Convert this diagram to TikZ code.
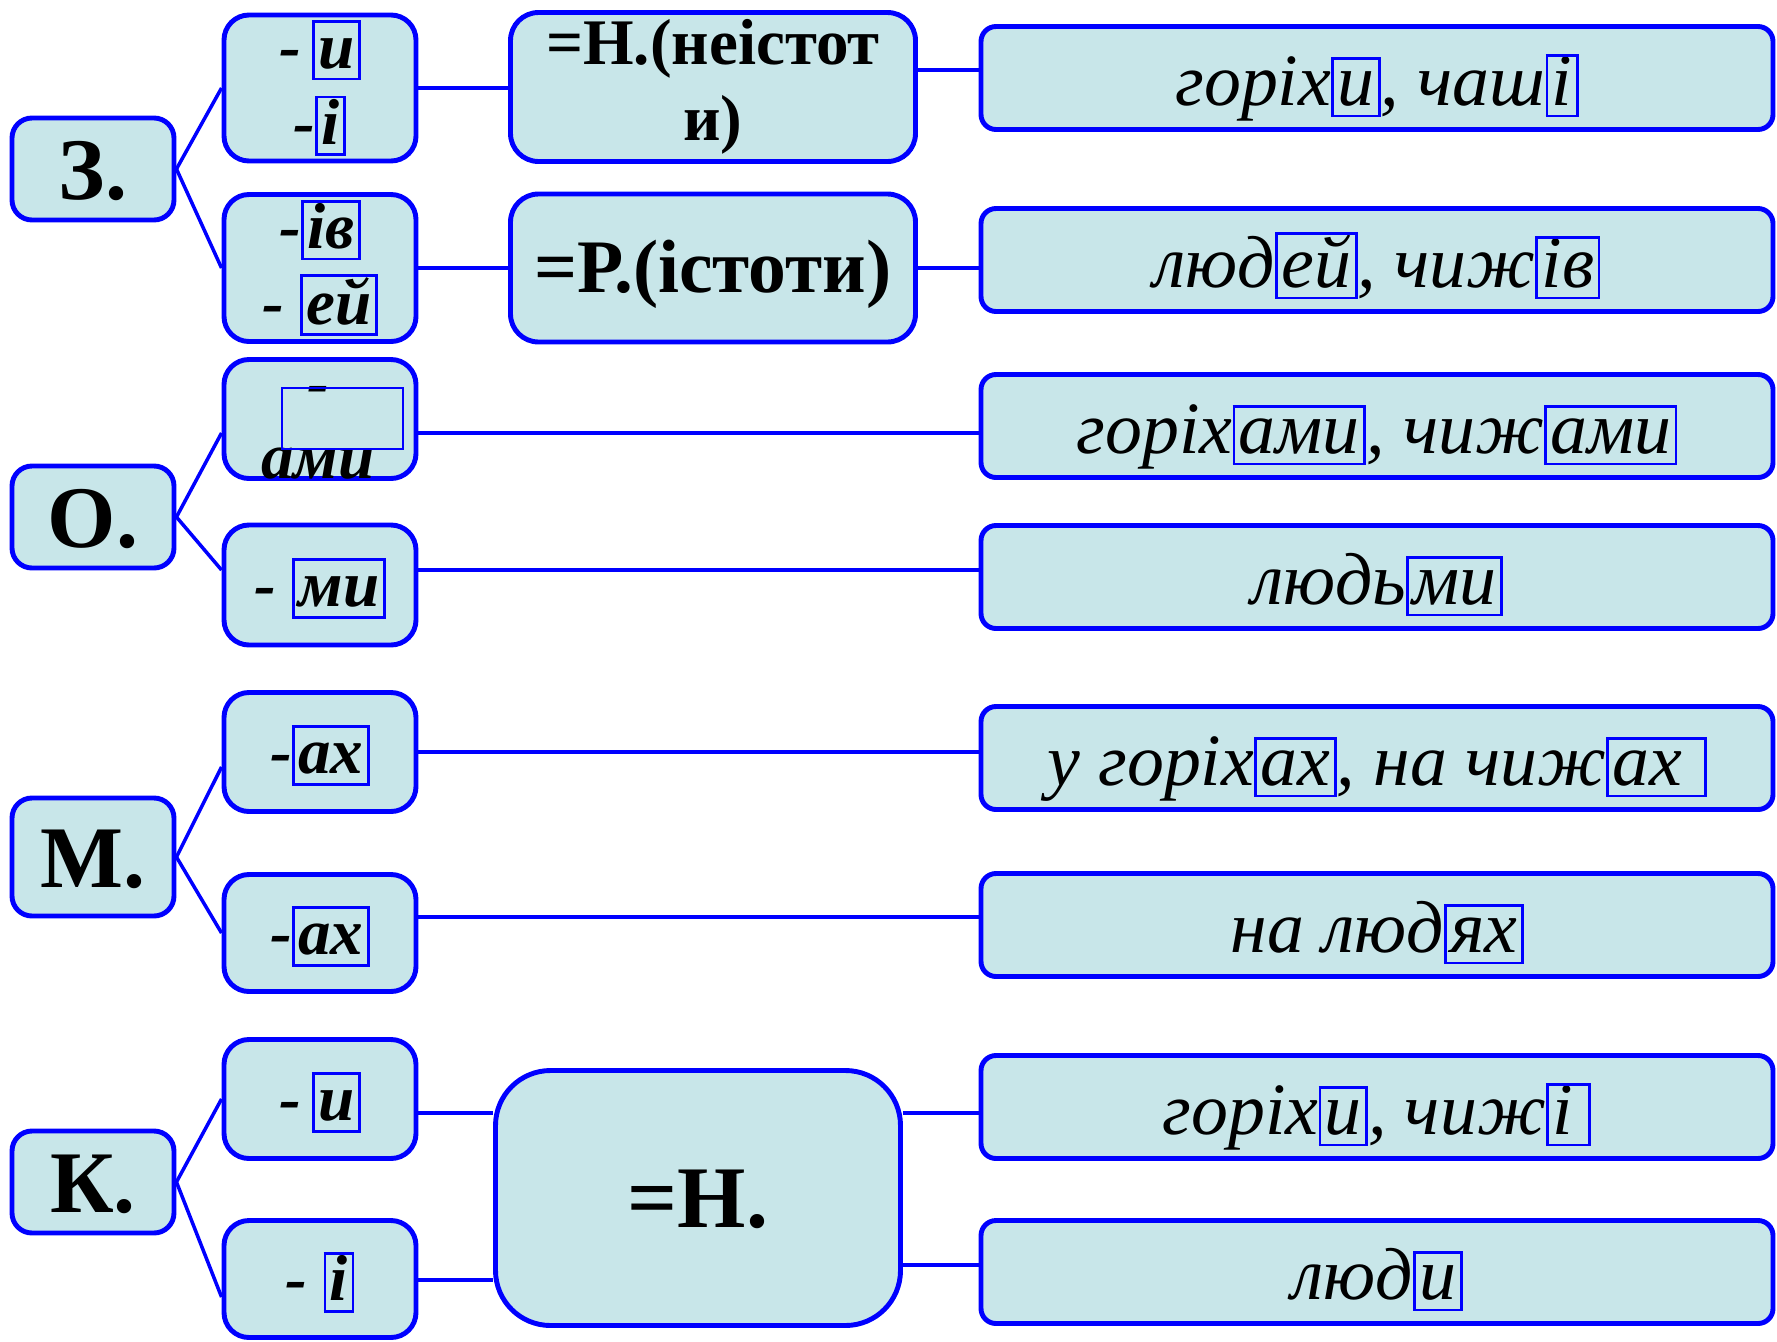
\documentclass[tikz,border=0pt]{standalone}
\usepackage{fontspec}
\setmainfont{Liberation Serif}
\definecolor{boxfill}{RGB}{200,230,233}
% framed ending inside a word
\newcommand{\flex}[1]{{\color{blue}\setlength{\fboxsep}{0pt}\setlength{\fboxrule}{0.8pt}%
  \fbox{\color{black}\rule[-2.6pt]{0pt}{15.6pt}\kern1pt#1\kern1pt}}}

\begin{document}
\begin{tikzpicture}[x=0.1mm, y=-0.1mm,
  box/.style={draw=blue, fill=boxfill, line width=1.4pt, inner sep=0pt},
  casebox/.style={box, rounded corners=0.2cm, minimum width=1.62cm, minimum height=1.02cm,
    font=\fontsize{25}{30}\selectfont\bfseries, text height=17.6pt, text depth=0pt},
  endbox/.style={box, rounded corners=0.25cm, minimum width=1.92cm, align=center,
    font=\fontsize{18.5}{21.5}\selectfont\bfseries\itshape},
  endtext/.style={font=\fontsize{18.5}{21.5}\selectfont\bfseries\itshape, inner sep=0pt, anchor=base},
  eqbox/.style={box, rounded corners=0.28cm, minimum width=4.05cm, minimum height=1.48cm, align=center,
    font=\fontsize{21.5}{25}\selectfont\bfseries},
  wordbox/.style={box, rounded corners=0.15cm, minimum width=7.92cm, minimum height=1.03cm,
    font=\fontsize{21}{25}\selectfont\itshape, text height=15.6pt, text depth=0pt},
  link/.style={draw=blue, line width=1.4pt},
  branch/.style={draw=blue, line width=1pt}]
  \useasboundingbox (0,0) rectangle (1777,1341);

  % cases
  \node[casebox] (z) at (93,169) {З.};
  \node[casebox] (o) at (93,517) {О.};
  \node[casebox, minimum height=1.18cm] (m) at (93,857) {М.};
  \node[casebox] (k) at (93,1182) {К.};

  % endings
  \node[endbox, minimum height=1.46cm] (e1) at (320,88) {-\,\flex{и}\\-\flex{і}};
  \node[endbox, minimum height=1.47cm] (e2) at (320,268) {-\flex{ів}\\- \flex{ей}};
  \node[endbox, minimum height=1.19cm] (e3) at (320,419) {};
  \node[endtext] (e3dash) at (318,404) {-};
  \node[endtext] (e3low) at (318,478) {ами};
  \draw[blue, line width=0.8pt] (282,388) rectangle (403,449);
  \node[endbox, minimum height=1.2cm, text height=12.4pt, text depth=0pt] (e4) at (320,585) {- \flex{ми}};
  \node[endbox, minimum height=1.19cm, text height=12.4pt, text depth=0pt] (e5) at (320,752) {-\flex{ах}};
  \node[endbox, minimum height=1.17cm, text height=12.4pt, text depth=0pt] (e6) at (320,933) {-\flex{ах}};
  \node[endbox, minimum height=1.19cm, text height=12.4pt, text depth=0pt] (e7) at (320,1099) {-\,\flex{и}};
  \node[endbox, minimum height=1.17cm, text height=12.4pt, text depth=0pt] (e8) at (320,1279) {- \flex{і}};

  % equal to
  \node[eqbox, minimum height=1.49cm, font=\fontsize{18.5}{21.5}\selectfont\bfseries] (q1) at (713,87) {=Н.(неістот\\и)};
  \node[eqbox, text height=14.2pt, text depth=0pt] (q2) at (713,268) {=Р.(істоти)};
  \node[eqbox, rounded corners=0.55cm, minimum height=2.55cm, font=\fontsize{25}{30}\selectfont\bfseries,
    text height=17pt, text depth=0pt] (q3) at (698,1198) {=Н.};

  % examples
  \node[wordbox] (w1) at (1377,78) {горіх\flex{и}, чаш\flex{і}};
  \node[wordbox] (w2) at (1377,260) {люд\flex{ей}, чиж\flex{ів}};
  \node[wordbox] (w3) at (1377,426) {горіх\flex{ами}, чиж\flex{ами}};
  \node[wordbox] (w4) at (1377,577) {людь\flex{ми}};
  \node[wordbox] (w5) at (1377,758) {у горіх\flex{ах}, на чиж\flex{ах\ }};
  \node[wordbox] (w6) at (1377,925) {на люд\flex{ях}};
  \node[wordbox] (w7) at (1377,1107) {горіх\flex{и}, чиж\flex{і\,}};
  \node[wordbox] (w8) at (1377,1272) {люд\flex{и}};

  % connectors
  \draw[branch] (z.east) -- (e1.west);
  \draw[branch] (z.east) -- (e2.west);
  \draw[link] (e1.east) -- (e1.east -| q1.west);
  \draw[link] (q1.east |- 0,70) -- (w1.west |- 0,70);
  \draw[link] (e2.east) -- (e2.east -| q2.west);
  \draw[link] (q2.east) -- (q2.east -| w2.west);
  \draw[branch] (o.east) -- (e3.west |- 0,433);
  \draw[branch] (o.east) -- (e4.west |- 0,570);
  \draw[link] (e3.east |- 0,433) -- (w3.west |- 0,433);
  \draw[link] (e4.east |- 0,570) -- (w4.west |- 0,570);
  \draw[branch] (m.east) -- (e5.west |- 0,767);
  \draw[branch] (m.east) -- (e6.west);
  \draw[link] (e5.east) -- (e5.east -| w5.west);
  \draw[link] (e6.east |- 0,917) -- (w6.west |- 0,917);
  \draw[branch] (k.east) -- (e7.west);
  \draw[branch] (k.east) -- (e8.west |- 0,1297);
  \draw[link] (e7.east |- 0,1113) -- (q3.west |- 0,1113);
  \draw[link] (q3.east |- 0,1113) -- (w7.west |- 0,1113);
  \draw[link] (e8.east |- 0,1280) -- (q3.west |- 0,1280);
  \draw[link] (q3.east |- 0,1265) -- (w8.west |- 0,1265);
\end{tikzpicture}
\end{document}
